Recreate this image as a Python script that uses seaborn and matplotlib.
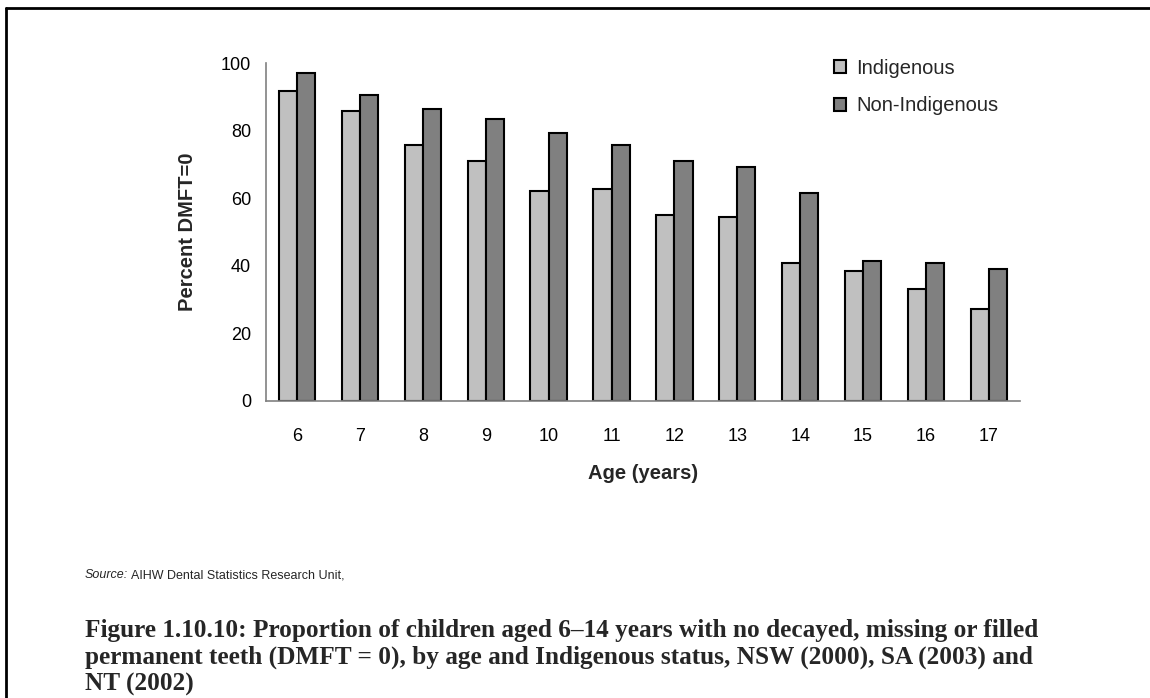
import matplotlib
matplotlib.use("Agg")
import matplotlib.pyplot as plt
import seaborn as sns
import pandas as pd
from matplotlib.patches import Patch
from matplotlib.lines import Line2D
from matplotlib.ticker import FixedLocator

# Percent of children with DMFT = 0, by age
ages = ["6", "7", "8", "9", "10", "11", "12", "13", "14", "15", "16", "17"]
indigenous = [91.8, 85.9, 75.8, 71.0, 62.2, 62.7, 55.0, 54.4, 40.8, 38.4, 33.1, 27.1]
non_indigenous = [97.0, 90.6, 86.4, 83.5, 79.3, 75.8, 71.0, 69.3, 61.6, 41.4, 40.8, 39.0]
series = ["Indigenous", "Non-Indigenous"]
colors = ["#C0C0C0", "#808080"]

source_lead = "Source:"
source_body = "AIHW Dental Statistics Research Unit,"
caption_lines = [
    "Figure 1.10.10: Proportion of children aged 6\u201314 years with no decayed, missing or filled",
    "permanent teeth (DMFT = 0), by age and Indigenous status, NSW (2000), SA (2003) and",
    "NT (2002)",
]

df = pd.DataFrame({
    "Age": ages * 2,
    "Percent": indigenous + non_indigenous,
    "Status": [series[0]] * len(ages) + [series[1]] * len(ages),
})

sns.set_style("white")
plt.rcParams["font.family"] = ["Liberation Sans", "DejaVu Sans"]

W, H = 1150, 698
fig = plt.figure(figsize=(W / 100, H / 100), dpi=100)
ax = fig.add_axes([0.2310, 0.4259, 0.6562, 0.4834])

sns.barplot(data=df, x="Age", y="Percent", hue="Status", order=ages,
            hue_order=series, palette=colors, width=0.577, gap=0,
            edgecolor="black", linewidth=1.5, saturation=1, legend=False, ax=ax)

ax.set_ylim(0, 100)
ax.set_xlim(-0.5, len(ages) - 0.5)
ax.set_yticks([0, 20, 40, 60, 80, 100])

# spines: left and bottom only, in grey
for side in ["top", "right"]:
    ax.spines[side].set_visible(False)
for side in ["left", "bottom"]:
    ax.spines[side].set_color("#808080")
    ax.spines[side].set_linewidth(1.2)

# x tick marks sit between categories; labels at the centres
ax.xaxis.set_minor_locator(FixedLocator([i - 0.5 for i in range(len(ages) + 1)]))
ax.tick_params(axis="x", which="major", length=0, pad=20, labelsize=13, colors="black")
ax.tick_params(axis="x", which="minor", length=5, width=1.2, color="#808080", direction="out")
ax.tick_params(axis="y", which="major", length=4.5, width=1.2, color="#808080",
               direction="out", pad=6, labelsize=13, labelcolor="black")

ax.set_xlabel("Age (years)", fontsize=14.5, fontweight="bold", labelpad=13)
ax.set_ylabel("Percent DMFT=0", fontsize=14.5, fontweight="bold", labelpad=17)

handles = [Patch(facecolor=c, edgecolor="black", linewidth=1.5, label=s)
           for c, s in zip(colors, series)]
fig.legend(handles=handles, loc="upper left", bbox_to_anchor=(0.718, 0.927),
           frameon=False, fontsize=14.5, handlelength=0.62, handleheight=0.62,
           handletextpad=0.5, labelspacing=0.9, borderaxespad=0)

# source note: italic lead-in followed by the body on the same baseline
src_y = 1 - 578 / H
src = fig.text(85 / W, src_y, source_lead, fontsize=9, style="italic",
               family="Liberation Sans", va="baseline")
fig.canvas.draw()
src_right = src.get_window_extent().x1 / fig.bbox.width
fig.text(src_right + 3 / W, src_y, source_body, fontsize=9,
         family="Liberation Sans", va="baseline")

# caption, one line at a time
for i, line in enumerate(caption_lines):
    fig.text(85 / W, 1 - (637 + 27 * i) / H, line, fontsize=18.2, fontweight="bold",
             family=["Liberation Serif", "DejaVu Serif"], va="baseline")

# frame lines along the top and left edge
fig.add_artist(Line2D([5.5 / W, 1.0], [1 - 7.5 / H, 1 - 7.5 / H],
                      transform=fig.transFigure, color="black", linewidth=2))
fig.add_artist(Line2D([5.5 / W, 5.5 / W], [0.0, 1 - 7.5 / H],
                      transform=fig.transFigure, color="black", linewidth=2))

fig.savefig("out.png", dpi=100)
